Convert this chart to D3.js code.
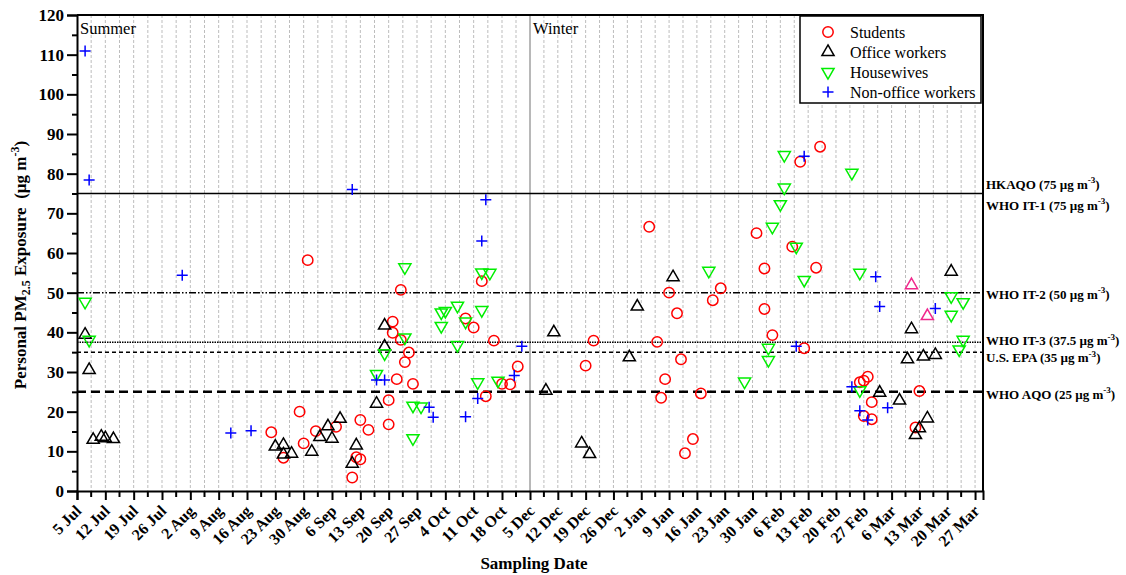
<!DOCTYPE html>
<html>
<head>
<meta charset="utf-8">
<script src="https://cdn.jsdelivr.net/npm/d3@7"></script>
<style>
  body { margin: 0; background: #fff; }
  svg text { font-family: "Liberation Serif", "Times New Roman", serif; }
</style>
</head>
<body>
<svg id="chart" width="1126" height="575"></svg>
<script>
// Personal PM2.5 exposure by occupational group, summer and winter campaigns

const students = [
  ["2013-08-31", 58.2], ["2013-08-22", 14.8], ["2013-08-25", 8.4], ["2013-08-29", 20.0],
  ["2013-08-30", 12.0], ["2013-09-02", 15.1], ["2013-09-07", 16.2], ["2013-09-13", 17.9],
  ["2013-09-15", 15.4], ["2013-09-12", 8.5], ["2013-09-13", 8.0], ["2013-09-11", 3.4],
  ["2013-09-20", 22.9], ["2013-09-20", 16.8], ["2013-09-22", 28.2], ["2013-09-26", 27.0],
  ["2013-09-24", 32.5], ["2013-09-23", 50.7], ["2013-09-21", 42.7], ["2013-09-21", 39.9],
  ["2013-09-23", 38.1], ["2013-09-25", 34.9], ["2013-10-09", 43.5], ["2013-10-11", 41.2],
  ["2013-10-13", 52.9], ["2013-10-16", 37.9], ["2013-10-14", 23.9], ["2013-10-18", 27.0],
  ["2013-11-01", 26.9], ["2013-11-14", 31.4],
  ["2013-12-21", 37.9], ["2013-12-19", 31.6], ["2014-01-04", 66.6], ["2014-01-09", 50.0],
  ["2014-01-22", 51.1], ["2014-01-20", 48.1], ["2014-01-11", 44.8], ["2014-01-06", 37.6],
  ["2014-01-12", 33.2], ["2014-01-08", 28.2], ["2014-01-07", 23.5], ["2014-01-17", 24.6],
  ["2014-01-15", 13.1], ["2014-01-13", 9.5], ["2014-01-31", 65.0], ["2014-02-16", 86.8],
  ["2014-02-11", 83.0], ["2014-02-09", 61.6], ["2014-02-02", 56.1], ["2014-02-15", 56.3],
  ["2014-02-02", 45.9], ["2014-02-04", 39.3], ["2014-02-12", 36.0], ["2014-02-28", 28.8],
  ["2014-02-27", 27.8], ["2014-02-26", 27.4], ["2014-03-01", 22.4], ["2014-02-27", 18.9],
  ["2014-03-01", 18.1], ["2014-03-13", 25.2], ["2014-03-12", 16.0]
];

const officeWorkers = [
  ["2013-07-07", 39.4], ["2013-07-08", 30.5], ["2013-07-09", 12.9], ["2013-07-11", 13.7],
  ["2013-07-12", 13.3], ["2013-07-14", 13.1], ["2013-08-23", 11.2], ["2013-08-25", 11.6],
  ["2013-08-25", 9.2], ["2013-08-27", 9.4], ["2013-09-01", 9.9], ["2013-09-03", 13.6],
  ["2013-09-05", 16.3], ["2013-09-06", 13.2], ["2013-09-08", 18.2], ["2013-09-11", 6.9],
  ["2013-09-12", 11.5], ["2013-09-17", 22.0], ["2013-09-19", 41.7], ["2013-09-19", 36.4],
  ["2013-12-11", 40.0], ["2013-12-09", 25.3], ["2013-12-18", 12.0], ["2013-12-20", 9.3],
  ["2013-12-30", 33.7], ["2014-01-01", 46.5], ["2014-01-10", 53.9], ["2014-03-21", 55.3],
  ["2014-03-11", 40.8], ["2014-03-10", 33.2], ["2014-03-14", 33.9], ["2014-03-17", 34.3],
  ["2014-03-03", 24.8], ["2014-03-08", 22.8], ["2014-03-15", 18.3], ["2014-03-13", 15.8],
  ["2014-03-12", 14.1]
];

// two office-worker samples flagged in pink
const officeFlagged = [
  ["2014-03-11", 51.9], ["2014-03-15", 44.1]
];

const housewives = [
  ["2013-07-07", 47.7], ["2013-07-08", 38.1], ["2013-09-17", 29.5], ["2013-09-24", 56.4],
  ["2013-09-24", 38.7], ["2013-09-19", 34.7], ["2013-09-26", 21.5], ["2013-09-28", 21.3],
  ["2013-09-26", 13.3], ["2013-10-03", 45.0], ["2013-10-04", 45.4], ["2013-10-03", 41.6],
  ["2013-10-07", 46.7], ["2013-10-07", 36.8], ["2013-10-09", 42.7], ["2013-10-13", 45.6],
  ["2013-10-13", 55.1], ["2013-10-15", 55.0], ["2013-10-12", 27.4], ["2013-10-17", 27.8],
  ["2014-01-19", 55.5], ["2014-01-28", 27.6], ["2014-02-07", 84.7], ["2014-02-07", 76.5],
  ["2014-02-06", 72.3], ["2014-02-04", 66.6], ["2014-02-10", 61.6], ["2014-02-12", 53.2],
  ["2014-02-24", 80.2], ["2014-02-26", 55.0], ["2014-02-03", 36.1], ["2014-02-03", 33.0],
  ["2014-02-26", 25.4], ["2014-03-21", 49.1], ["2014-03-24", 47.6], ["2014-03-21", 44.4],
  ["2014-03-24", 38.1], ["2014-03-23", 35.7]
];

const nonOfficeWorkers = [
  ["2013-07-07", 110.9], ["2013-07-08", 78.4], ["2013-07-31", 54.4], ["2013-09-11", 76.0],
  ["2013-08-12", 14.6], ["2013-08-17", 15.2], ["2013-09-17", 28.0], ["2013-09-19", 28.0],
  ["2013-09-30", 21.1], ["2013-10-01", 18.6], ["2013-10-09", 18.7], ["2013-10-12", 23.3],
  ["2013-10-13", 63.0], ["2013-10-14", 73.4], ["2013-11-08", 29.1], ["2013-11-21", 36.5],
  ["2014-02-12", 84.4], ["2014-02-10", 36.5], ["2014-03-02", 54.0], ["2014-03-03", 46.5],
  ["2014-02-24", 26.3], ["2014-02-26", 20.2], ["2014-02-28", 17.9], ["2014-03-05", 21.0],
  ["2014-03-17", 46.0]
];

// weekly tick dates; the axis jumps from 18 Oct straight to 5 Dec
const tickDates = [
  "2013-07-05", "2013-07-12", "2013-07-19", "2013-07-26", "2013-08-02", "2013-08-09",
  "2013-08-16", "2013-08-23", "2013-08-30", "2013-09-06", "2013-09-13", "2013-09-20",
  "2013-09-27", "2013-10-04", "2013-10-11", "2013-10-18",
  "2013-12-05", "2013-12-12", "2013-12-19", "2013-12-26", "2014-01-02", "2014-01-09",
  "2014-01-16", "2014-01-23", "2014-01-30", "2014-02-06", "2014-02-13", "2014-02-20",
  "2014-02-27", "2014-03-06", "2014-03-13", "2014-03-20", "2014-03-27"
];

const yTicks = d3.range(0, 121, 10);

// air quality standards and their labels
const standardValues = [75, 50, 37.5, 35, 25];
const standardLabels = [
  ["HKAQO (75 \u00b5g m", "WHO IT-1 (75 \u00b5g m"],
  ["WHO IT-2 (50 \u00b5g m"],
  ["WHO IT-3 (37.5 \u00b5g m"],
  ["U.S. EPA (35 \u00b5g m"],
  ["WHO AQO (25 \u00b5g m"]
];

const seasonNames = ["Summer", "Winter"];
const seasonStarts = ["2013-07-05", "2013-12-05"];

const legendNames = ["Students", "Office workers", "Housewives", "Non-office workers"];

// ---- layout ----
const L = 77, R = 983, T = 15, B = 491;
const parse = d3.utcParse("%Y-%m-%d");
const svg = d3.select("#chart");

const x = d3.scaleUtc()
  .domain([parse("2013-07-05"), parse("2013-10-18"), parse("2013-12-05"), parse("2014-03-29")])
  .range([L, 502, 530, R]);
const y = d3.scaleLinear().domain([0, 120]).range([B, T]);

const tickX = tickDates.map(d => x(parse(d)));
const midX = d3.pairs(tickX).map(([a, b]) => (a + b) / 2);

// vertical dashed grid at every major and minor tick
const gridX = tickX.slice(1).concat(midX);
svg.append("g").selectAll("line").data(gridX).join("line")
  .attr("x1", d => d).attr("x2", d => d)
  .attr("y1", T).attr("y2", B)
  .attr("stroke", "#bdbdbd").attr("stroke-width", 1)
  .attr("stroke-dasharray", "3,2");

// season divider
svg.append("line")
  .attr("x1", x(parse(seasonStarts[1]))).attr("x2", x(parse(seasonStarts[1])))
  .attr("y1", T).attr("y2", B)
  .attr("stroke", "#b8b8b8").attr("stroke-width", 2);

// standards
const dashes = [null, "7,2,1.5,2,1.5,2", "1.5,1", "4,3", "9,5"];
const widths = [1.5, 1.5, 1.6, 1.5, 2.5];
svg.append("g").selectAll("line").data(standardValues).join("line")
  .attr("x1", L).attr("x2", R)
  .attr("y1", d => y(d)).attr("y2", d => y(d))
  .attr("stroke", "#000")
  .attr("stroke-width", (d, i) => widths[i])
  .attr("stroke-dasharray", (d, i) => dashes[i]);

function supLabel(g, xPos, yPos, base, size) {
  const t = g.append("text").attr("x", xPos).attr("y", yPos)
    .attr("font-size", size).attr("font-weight", "bold").attr("fill", "#000");
  t.append("tspan").text(base);
  t.append("tspan").attr("font-size", size * 0.7).attr("dy", -size * 0.42).text("-3");
  t.append("tspan").attr("dy", size * 0.42).text(")");
  return t;
}

const labelG = svg.append("g");
const labelOffsets = [[-5, 16], [6], [3], [10], [7]];
standardValues.forEach((v, i) => {
  standardLabels[i].forEach((lab, j) => {
    supLabel(labelG, 986, y(v) + labelOffsets[i][j], lab, 13);
  });
});

// axes
const yAxis = d3.axisLeft(y).tickValues(yTicks).tickSize(10).tickPadding(3);
const gy = svg.append("g").attr("transform", `translate(${L},0)`).call(yAxis);
gy.selectAll("text").attr("font-size", 17).attr("font-weight", "bold")
  .attr("font-family", "Liberation Serif, serif").attr("fill", "#000");
svg.append("g").attr("transform", `translate(${L},0)`)
  .call(d3.axisLeft(y).tickValues(d3.range(5, 120, 10)).tickSize(5).tickFormat(""))
  .select(".domain").remove();

const fmt = d3.utcFormat("%-d %b");
const xAxis = d3.axisBottom(x).tickValues(tickDates.map(parse)).tickSize(9).tickFormat(fmt);
const gx = svg.append("g").attr("transform", `translate(0,${B})`).call(xAxis);
gx.selectAll("text")
  .attr("font-size", 16).attr("font-weight", "bold").attr("font-family", "Liberation Serif, serif")
  .attr("fill", "#000")
  .attr("text-anchor", "end")
  .attr("x", 0).attr("y", 0).attr("dy", "0.35em")
  .attr("transform", "translate(1,17) rotate(-45)");
const gxMinor = svg.append("g").attr("transform", `translate(0,${B})`);
gxMinor.selectAll("line").data(midX).join("line")
  .attr("x1", d => d).attr("x2", d => d).attr("y1", 0).attr("y2", 6)
  .attr("stroke", "#000").attr("stroke-width", 2);

svg.selectAll(".domain").attr("stroke", "#000").attr("stroke-width", 2);
svg.selectAll(".tick line").attr("stroke", "#000").attr("stroke-width", 2);

// frame top and right
svg.append("path").attr("d", `M${L},${T}H${R}V${B}`)
  .attr("fill", "none").attr("stroke", "#000").attr("stroke-width", 2);

// season labels
svg.append("g").selectAll("text").data(seasonNames).join("text")
  .attr("x", (d, i) => x(parse(seasonStarts[i])) + 3)
  .attr("y", 34)
  .attr("font-size", 16.5).attr("fill", "#000")
  .text(d => d);

// markers
const circleR = 5.2;
const triUp = d3.symbol(d3.symbolTriangle, 64)();
const plus = "M-5.5,0H5.5M0,-5.5V5.5";

function points(data) {
  return data.map(([d, v]) => ({ cx: x(parse(d)), cy: y(v) }));
}

const mk = svg.append("g");
mk.selectAll("circle.st").data(points(students)).join("circle")
  .attr("cx", d => d.cx).attr("cy", d => d.cy).attr("r", circleR)
  .attr("fill", "none").attr("stroke", "#ff0000").attr("stroke-width", 1.5);
mk.selectAll("path.ow").data(points(officeWorkers)).join("path")
  .attr("d", triUp).attr("transform", d => `translate(${d.cx},${d.cy})`)
  .attr("fill", "none").attr("stroke", "#000").attr("stroke-width", 1.5);
mk.selectAll("path.of").data(points(officeFlagged)).join("path")
  .attr("d", triUp).attr("transform", d => `translate(${d.cx},${d.cy})`)
  .attr("fill", "none").attr("stroke", "#f0288c").attr("stroke-width", 1.5);
mk.selectAll("path.hw").data(points(housewives)).join("path")
  .attr("d", triUp).attr("transform", d => `translate(${d.cx},${d.cy}) rotate(180)`)
  .attr("fill", "none").attr("stroke", "#00ee00").attr("stroke-width", 1.5);
mk.selectAll("path.nw").data(points(nonOfficeWorkers)).join("path")
  .attr("d", plus).attr("transform", d => `translate(${d.cx},${d.cy})`)
  .attr("fill", "none").attr("stroke", "#0000ff").attr("stroke-width", 1.5);

// legend
const lg = svg.append("g");
lg.append("rect").attr("x", 800).attr("y", 16).attr("width", 181).attr("height", 87)
  .attr("fill", "#fff").attr("stroke", "#000").attr("stroke-width", 1.5);
const legendY = [32, 52, 72, 92];
legendNames.forEach((name, i) => {
  const g = lg.append("g").attr("transform", `translate(828,${legendY[i]})`);
  if (i === 0) g.append("circle").attr("r", circleR).attr("fill", "none").attr("stroke", "#ff0000").attr("stroke-width", 1.5);
  if (i === 1) g.append("path").attr("d", triUp).attr("fill", "none").attr("stroke", "#000").attr("stroke-width", 1.5);
  if (i === 2) g.append("path").attr("d", triUp).attr("transform", "rotate(180)").attr("fill", "none").attr("stroke", "#00ee00").attr("stroke-width", 1.5);
  if (i === 3) g.append("path").attr("d", plus).attr("fill", "none").attr("stroke", "#0000ff").attr("stroke-width", 1.5);
  lg.append("text").attr("x", 850).attr("y", legendY[i] + 5.5)
    .attr("font-size", 16).attr("fill", "#000").text(name);
});

// axis titles
svg.append("text").attr("x", (L + R) / 2 + 4).attr("y", 569)
  .attr("text-anchor", "middle").attr("font-size", 17).attr("font-weight", "bold")
  .text("Sampling Date");

const yt = svg.append("text")
  .attr("transform", `translate(26,${(T + B) / 2 + 12}) rotate(-90)`)
  .attr("text-anchor", "middle").attr("font-size", 17).attr("font-weight", "bold");
yt.append("tspan").text("Personal PM");
yt.append("tspan").attr("font-size", 12).attr("dy", 4).text("2.5");
yt.append("tspan").attr("dy", -4).text(" Exposure\u00a0\u00a0(\u00b5g m");
yt.append("tspan").attr("font-size", 12).attr("dy", -7).text("-3");
yt.append("tspan").attr("dy", 7).text(")");
</script>
</body>
</html>
